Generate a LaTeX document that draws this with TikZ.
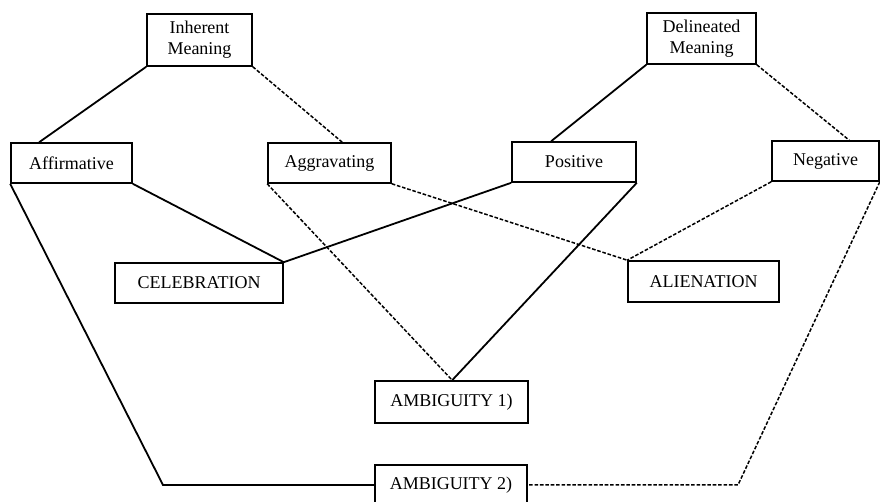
\documentclass[tikz,border=0pt]{standalone}
\usepackage{fontspec}
\setmainfont{Liberation Serif}
\usepackage{tikz}

\begin{document}
\begin{tikzpicture}[x=0.5pt,y=-0.5pt,
  box/.style={draw, line width=0.8pt, inner sep=0pt, minimum height=20pt,
    font=\fontsize{9}{10.5}\selectfont, align=center},
  solidline/.style={line width=0.9pt},
  dashline/.style={line width=0.75pt, dash pattern=on 1.8pt off 0.9pt}]
\useasboundingbox (0,0) rectangle (880,502);
% the two meanings
\node[box, minimum width=52.5pt, minimum height=26pt] (inh) at (199.5,40) {Inherent\\Meaning};
\node[box, minimum width=54.5pt, minimum height=25.5pt] (del) at (701.5,38.5) {Delineated\\Meaning};
% second row
\node[box, minimum width=60.5pt] (aff) at (71.5,163) {Affirmative};
\node[box, minimum width=61.5pt] (agg) at (329.5,163) {Aggravating};
\node[box, minimum width=62pt] (pos) at (574,162) {Positive};
\node[box, minimum width=53.5pt] (neg) at (825.5,161) {Negative};
% outcomes
\node[box, minimum width=84pt] (cel) at (199,283) {CELEBRATION};
\node[box, minimum width=75.5pt, minimum height=20.5pt] (ali) at (703.5,281.5) {ALIENATION};
\node[box, minimum width=76.5pt, minimum height=21pt] (amb1) at (451.5,402) {AMBIGUITY 1)};
\node[box, minimum width=76pt] (amb2) at (451,485) {AMBIGUITY 2)};
\coordinate (bendl) at (163,485);
\coordinate (bendr) at (738,485);

\draw[solidline] (inh.south west) -- ([xshift=14.5pt]aff.north west);
\draw[dashline] (inh.south east) -- ([xshift=37.5pt]agg.north west);
\draw[solidline] (del.south west) -- ([xshift=20pt]pos.north west);
\draw[dashline] (del.south east) -- ([xshift=39pt]neg.north west);
\draw[solidline] (aff.south east) -- (cel.north east);
\draw[solidline] (pos.south west) -- (cel.north east);
\draw[dashline] (agg.south east) -- (ali.north west);
\draw[dashline] (neg.south west) -- (ali.north west);
\draw[dashline] (agg.south west) -- ([xshift=39pt]amb1.north west);
\draw[solidline] (pos.south east) -- ([xshift=39pt]amb1.north west);
\draw[solidline] (aff.south west) -- (bendl) -- (amb2.west);
\draw[dashline] (neg.south east) -- (bendr) -- (amb2.east);

\end{tikzpicture}
\end{document}
